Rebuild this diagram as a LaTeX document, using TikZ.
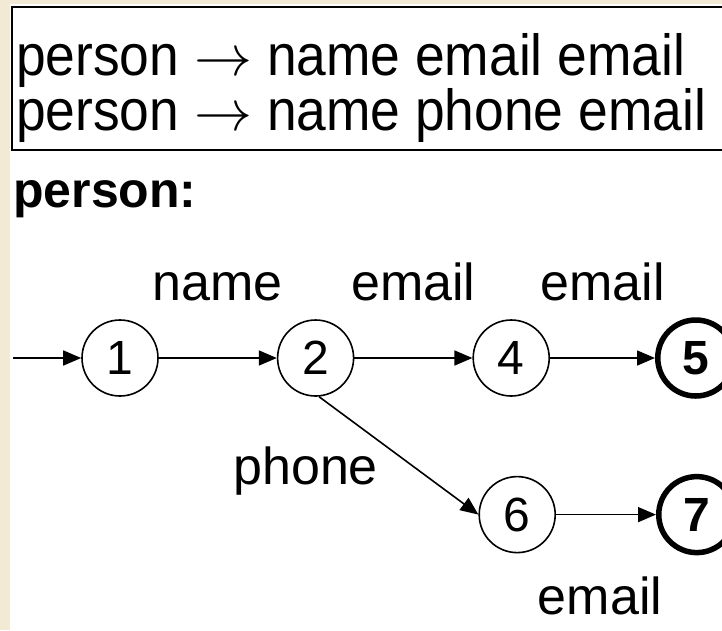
\documentclass[tikz,border=0pt]{standalone}
\usepackage{fix-cm}
\usepackage{fontspec}
\setmainfont{Liberation Sans}
\newfontfamily\rulefont[FakeStretch=0.92]{Liberation Sans}
\usetikzlibrary{positioning,arrows.meta}
\definecolor{paper}{RGB}{243,234,214}

\begin{document}
\begin{tikzpicture}[
        x=1pt, y=-1pt,
        rule/.style={anchor=base west, inner sep=0pt, font=\rulefont\fontsize{58}{58}\selectfont},
        state/.style={draw, circle, line width=1.6pt, minimum size=76pt, inner sep=0pt, font=\fontsize{48}{48}\selectfont},
        final/.style={state, line width=5.5pt, font=\bfseries\fontsize{48}{48}\selectfont},
        lbl/.style={inner sep=0pt, font=\fontsize{52}{52}\selectfont},
        edge/.style={line width=1.6pt, -{Triangle[length=18pt,width=15pt]}},
        node distance=118pt
    ]
    \useasboundingbox (0,0) rectangle (722,630);
    \fill[paper] (0,0) rectangle (722,630);
    \fill[white] (10,4) rectangle (722,630);
    \draw[line width=2.5pt] (12,7) rectangle (740,150);

    \node[rule] (rule1) at (16,75) {person $\rightarrow$ name email email};
    \node[rule] (rule2) at (16,130) {person $\rightarrow$ name phone email};
    \node[anchor=base west, inner sep=0pt, font=\bfseries\fontsize{50}{50}\selectfont] (title) at (13,207) {person:};

    \coordinate (start) at (13,358);
    \node[state] (s1) at (120,358) {1};
    \node[state, right=of s1] (s2) {2};
    \node[state, right=of s2] (s4) {4};
    \node[final, right=105pt of s4] (s5) {5};
    \node[state, below=79pt of s4, xshift=6pt] (s6) {6};
    \node[final, right=100pt of s6] (s7) {7};

    \draw[edge] (start) -- (s1);
    \draw[edge] (s1) -- node[lbl, anchor=base, yshift=58pt] {name} (s2);
    \draw[edge] (s2) -- node[lbl, anchor=base, yshift=58pt] {email} (s4);
    \draw[edge] (s4) -- node[lbl, anchor=base, yshift=58pt] {email} (s5);
    \draw[edge] (s2.-85) -- node[lbl, anchor=base east, xshift=-20pt, yshift=-29pt] {phone} (s6.west);
    \draw[edge] (s6) -- node[lbl, anchor=base, xshift=-6pt, yshift=-100pt] {email} (s7);
\end{tikzpicture}
\end{document}
